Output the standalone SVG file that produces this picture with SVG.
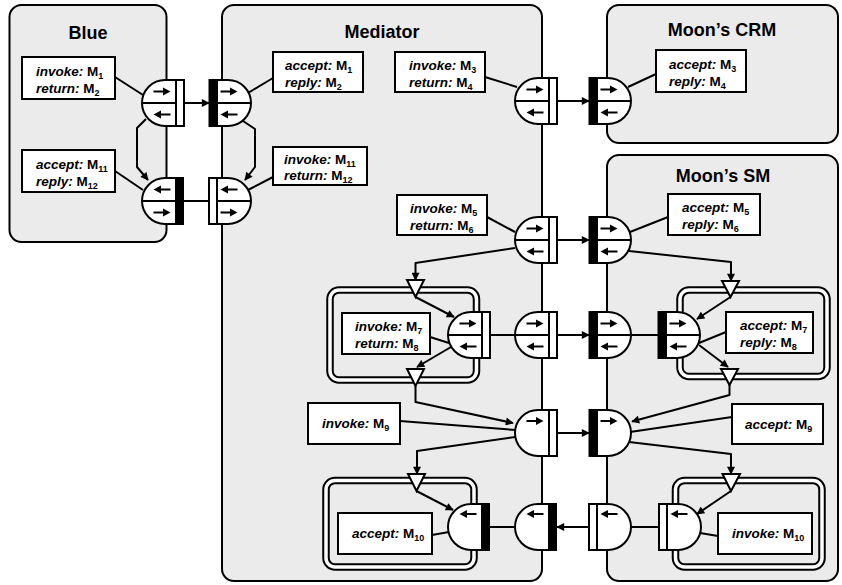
<svg xmlns="http://www.w3.org/2000/svg" xmlns:xlink="http://www.w3.org/1999/xlink" width="842" height="585" viewBox="0 0 842 585">
<style>
.c{fill:#ebebeb;stroke:#000;stroke-width:2}
.ln{fill:none;stroke:#000;stroke-width:2;stroke-linejoin:round}
.ar{marker-end:url(#ah)}
.bx{fill:#fff;stroke:#000;stroke-width:2}
.d{fill:#fff;stroke:#000;stroke-width:2}
.tri{fill:#fff;stroke:#000;stroke-width:2;stroke-linejoin:miter}
.n1{fill:none;stroke:#000;stroke-width:7.5}
.n2{fill:none;stroke:#fff;stroke-width:3.5}
.t{font-family:"Liberation Sans",Arial,sans-serif;font-weight:bold;font-size:13.5px;fill:#000}
.k{font-style:italic}
.s{font-size:9px}
.ti{font-family:"Liberation Sans",Arial,sans-serif;font-weight:bold;font-size:18px;text-anchor:middle}
</style>
<defs>
<marker id="ah" viewBox="0 0 10 10" refX="9" refY="5" markerWidth="9" markerHeight="8" markerUnits="userSpaceOnUse" orient="auto"><path d="M0,0L10,5L0,10Z"/></marker>
<path id="dl" class="d" d="M0,-23H-11A23,23 0 0 0 -11,23H0Z"/>
<path id="dr" class="d" d="M0,-23H11A23,23 0 0 1 11,23H0Z"/>
<path id="vl" class="ln" d="M-34,0H0"/>
<path id="vr" class="ln" d="M0,0H34"/>
<rect id="bw" x="0" y="-23" width="8" height="46" fill="#fff" stroke="#000" stroke-width="2"/>
<rect id="bb" x="-0.5" y="-24" width="8.5" height="48" fill="#000"/>
<g id="aR"><path d="M-8.5,0H2" stroke="#000" stroke-width="2"/><path d="M1,-4L8.5,0L1,4Z"/></g>
<g id="aL"><path d="M8.5,0H-2" stroke="#000" stroke-width="2"/><path d="M-1,-4L-8.5,0L-1,4Z"/></g>
</defs>

<g id="containers">
<g id="blue"><rect class="c" x="9.5" y="5" width="157" height="237" rx="12"/><text class="ti" x="88" y="39">Blue</text></g>
<g id="mediator"><rect class="c" x="222" y="5" width="320" height="576" rx="12"/><text class="ti" x="382" y="38">Mediator</text></g>
<g id="crm"><rect class="c" x="607" y="5" width="231" height="138" rx="12"/><text class="ti" x="722" y="36">Moon’s CRM</text></g>
<g id="sm"><rect class="c" x="607" y="155" width="231" height="426" rx="12"/><text class="ti" x="723" y="182">Moon’s SM</text></g>
</g>

<g id="nested">
<g id="n1"><rect class="n1" x="330" y="290" width="146.5" height="90" rx="9"/><rect class="n2" x="330" y="290" width="146.5" height="90" rx="9"/></g>
<g id="n2"><rect class="n1" x="680" y="290" width="147" height="86.5" rx="9"/><rect class="n2" x="680" y="290" width="147" height="86.5" rx="9"/></g>
<g id="n3"><rect class="n1" x="326" y="480.5" width="148" height="86.5" rx="9"/><rect class="n2" x="326" y="480.5" width="148" height="86.5" rx="9"/></g>
<g id="n4"><rect class="n1" x="675.5" y="480.5" width="146.5" height="86.5" rx="9"/><rect class="n2" x="675.5" y="480.5" width="146.5" height="86.5" rx="9"/></g>
</g>

<g id="connectors">
<path class="ln ar" d="M184,103H209"/>
<path class="ln" d="M184,201H209"/>
<path class="ln ar" d="M146,119L137,128V167L148,180"/>
<path class="ln ar" d="M243,121L255,129V167L245,180"/>
<path class="ln ar" d="M557,101H589"/>
<path class="ln ar" d="M557,240H589"/>
<path class="ln ar" d="M515,248L415.5,263V280"/>
<path class="ln ar" d="M415.5,297L454,317"/>
<path class="ln ar" d="M451,347L417,367"/>
<path class="ln" d="M490,335H515"/>
<path class="ln ar" d="M557,335H589"/>
<path class="ln" d="M631,335H658"/>
<path class="ln ar" d="M629,251L731,262V281"/>
<path class="ln ar" d="M730.5,297L697,319"/>
<path class="ln ar" d="M699,345L728,367"/>
<path class="ln ar" d="M415.5,386V402L513,423"/>
<path class="ln ar" d="M515,437L417,451V474"/>
<path class="ln ar" d="M416.5,491L453,510"/>
<path class="ln" d="M490,527H515"/>
<path class="ln ar" d="M589,527H557"/>
<path class="ln" d="M631,527H659"/>
<path class="ln ar" d="M729.5,385V395L632,421.5"/>
<path class="ln ar" d="M629,442L731,454V474"/>
<path class="ln ar" d="M731,491L697,514"/>
<path class="ln ar" d="M557,433H589"/>
<path class="ln" d="M115,77L143,95"/>
<path class="ln" d="M115,171L143,190"/>
<path class="ln" d="M273,78L248,93"/>
<path class="ln" d="M273,177L248,190"/>
<path class="ln" d="M485,77L517,87"/>
<path class="ln" d="M656,74L628,87"/>
<path class="ln" d="M487,217L515,232"/>
<path class="ln" d="M668,217L630,232"/>
<path class="ln" d="M430,337L449,343"/>
<path class="ln" d="M726,332L699,343"/>
<path class="ln" d="M400,421L516,430"/>
<path class="ln" d="M732,417L630,432"/>
<path class="ln" d="M432,535L449,532"/>
<path class="ln" d="M718,536L700,533"/>
</g>

<g id="triangles">
<path class="tri" d="M407,280H424L415.5,297Z"/>
<path class="tri" d="M407,369H424L415.5,386Z"/>
<path class="tri" d="M722,281H739L730.5,297Z"/>
<path class="tri" d="M721,369H738L729.5,385Z"/>
<path class="tri" d="M408,474H425L416.5,491Z"/>
<path class="tri" d="M722.5,474H740L731,491Z"/>
</g>

<g id="p1" transform="translate(176,103)"><use xlink:href="#dl"/><use xlink:href="#vl"/><use xlink:href="#bw"/><use xlink:href="#aR" x="-14" y="-11.5"/><use xlink:href="#aL" x="-14" y="11.5"/></g>
<g id="p2" transform="translate(217,103)"><use xlink:href="#dr"/><use xlink:href="#vr"/><use xlink:href="#bb" x="-8"/><use xlink:href="#aR" x="12" y="-11.5"/><use xlink:href="#aL" x="12" y="11.5"/></g>
<g id="p3" transform="translate(176,201)"><use xlink:href="#dl"/><use xlink:href="#vl"/><use xlink:href="#bb"/><use xlink:href="#aL" x="-14" y="-11.5"/><use xlink:href="#aR" x="-14" y="11.5"/></g>
<g id="p4" transform="translate(217,201)"><use xlink:href="#dr"/><use xlink:href="#vr"/><use xlink:href="#bw" x="-8"/><use xlink:href="#aL" x="12" y="-11.5"/><use xlink:href="#aR" x="12" y="11.5"/></g>
<g id="p5" transform="translate(549,101)"><use xlink:href="#dl"/><use xlink:href="#vl"/><use xlink:href="#bw"/><use xlink:href="#aR" x="-14" y="-11.5"/><use xlink:href="#aL" x="-14" y="11.5"/></g>
<g id="p6" transform="translate(597,101)"><use xlink:href="#dr"/><use xlink:href="#vr"/><use xlink:href="#bb" x="-8"/><use xlink:href="#aR" x="12" y="-11.5"/><use xlink:href="#aL" x="12" y="11.5"/></g>
<g id="p7" transform="translate(549,240)"><use xlink:href="#dl"/><use xlink:href="#vl"/><use xlink:href="#bw"/><use xlink:href="#aR" x="-14" y="-11.5"/><use xlink:href="#aL" x="-14" y="11.5"/></g>
<g id="p8" transform="translate(597,240)"><use xlink:href="#dr"/><use xlink:href="#vr"/><use xlink:href="#bb" x="-8"/><use xlink:href="#aR" x="12" y="-11.5"/><use xlink:href="#aL" x="12" y="11.5"/></g>
<g id="p9" transform="translate(482,335)"><use xlink:href="#dl"/><use xlink:href="#vl"/><use xlink:href="#bw"/><use xlink:href="#aR" x="-14" y="-11.5"/><use xlink:href="#aL" x="-14" y="11.5"/></g>
<g id="p10" transform="translate(549,335)"><use xlink:href="#dl"/><use xlink:href="#vl"/><use xlink:href="#bw"/><use xlink:href="#aR" x="-14" y="-11.5"/><use xlink:href="#aL" x="-14" y="11.5"/></g>
<g id="p11" transform="translate(597,335)"><use xlink:href="#dr"/><use xlink:href="#vr"/><use xlink:href="#bb" x="-8"/><use xlink:href="#aR" x="12" y="-11.5"/><use xlink:href="#aL" x="12" y="11.5"/></g>
<g id="p12" transform="translate(666,335)"><use xlink:href="#dr"/><use xlink:href="#vr"/><use xlink:href="#bb" x="-8"/><use xlink:href="#aR" x="12" y="-11.5"/><use xlink:href="#aL" x="12" y="11.5"/></g>
<g id="p13" transform="translate(549,433)"><use xlink:href="#dl"/><use xlink:href="#bw"/><use xlink:href="#aR" x="-14" y="-12"/></g>
<g id="p14" transform="translate(597,433)"><use xlink:href="#dr"/><use xlink:href="#bb" x="-8"/><use xlink:href="#aR" x="12" y="-12"/></g>
<g id="p15" transform="translate(482,527)"><use xlink:href="#dl"/><use xlink:href="#bb"/><use xlink:href="#aL" x="-14" y="-13"/></g>
<g id="p16" transform="translate(549,527)"><use xlink:href="#dl"/><use xlink:href="#bb"/><use xlink:href="#aL" x="-14" y="-13"/></g>
<g id="p17" transform="translate(597,527)"><use xlink:href="#dr"/><use xlink:href="#bw" x="-8"/><use xlink:href="#aL" x="12" y="-13"/></g>
<g id="p18" transform="translate(667,527)"><use xlink:href="#dr"/><use xlink:href="#bw" x="-8"/><use xlink:href="#aL" x="12" y="-13"/></g>

<g id="b1"><rect class="bx" x="22" y="57" width="93" height="42"/><text class="t" x="36" y="76"><tspan class="k">invoke:</tspan> M<tspan class="s" dy="3">1</tspan></text><text class="t" x="36" y="93"><tspan class="k">return:</tspan> M<tspan class="s" dy="3">2</tspan></text></g>
<g id="b2"><rect class="bx" x="22" y="150" width="93" height="42"/><text class="t" x="36" y="169"><tspan class="k">accept:</tspan> M<tspan class="s" dy="3">11</tspan></text><text class="t" x="36" y="186"><tspan class="k">reply:</tspan> M<tspan class="s" dy="3">12</tspan></text></g>
<g id="b3"><rect class="bx" x="273" y="52" width="90" height="40"/><text class="t" x="285" y="70"><tspan class="k">accept:</tspan> M<tspan class="s" dy="3">1</tspan></text><text class="t" x="285" y="87"><tspan class="k">reply:</tspan> M<tspan class="s" dy="3">2</tspan></text></g>
<g id="b4"><rect class="bx" x="273" y="147" width="94" height="38"/><text class="t" x="284" y="164"><tspan class="k">invoke:</tspan> M<tspan class="s" dy="3">11</tspan></text><text class="t" x="284" y="180"><tspan class="k">return:</tspan> M<tspan class="s" dy="3">12</tspan></text></g>
<g id="b5"><rect class="bx" x="395" y="52" width="90" height="40"/><text class="t" x="409" y="70"><tspan class="k">invoke:</tspan> M<tspan class="s" dy="3">3</tspan></text><text class="t" x="409" y="87"><tspan class="k">return:</tspan> M<tspan class="s" dy="3">4</tspan></text></g>
<g id="b6"><rect class="bx" x="656" y="50" width="90" height="42"/><text class="t" x="669" y="69"><tspan class="k">accept:</tspan> M<tspan class="s" dy="3">3</tspan></text><text class="t" x="669" y="86"><tspan class="k">reply:</tspan> M<tspan class="s" dy="3">4</tspan></text></g>
<g id="b7"><rect class="bx" x="397" y="195" width="90" height="40"/><text class="t" x="410" y="213"><tspan class="k">invoke:</tspan> M<tspan class="s" dy="3">5</tspan></text><text class="t" x="410" y="230"><tspan class="k">return:</tspan> M<tspan class="s" dy="3">6</tspan></text></g>
<g id="b8"><rect class="bx" x="668" y="194" width="92" height="41"/><text class="t" x="682" y="212"><tspan class="k">accept:</tspan> M<tspan class="s" dy="3">5</tspan></text><text class="t" x="682" y="229"><tspan class="k">reply:</tspan> M<tspan class="s" dy="3">6</tspan></text></g>
<g id="b9"><rect class="bx" x="342" y="313" width="88" height="41"/><text class="t" x="355" y="331"><tspan class="k">invoke:</tspan> M<tspan class="s" dy="3">7</tspan></text><text class="t" x="355" y="348"><tspan class="k">return:</tspan> M<tspan class="s" dy="3">8</tspan></text></g>
<g id="b10"><rect class="bx" x="726" y="312" width="87" height="41"/><text class="t" x="740" y="330"><tspan class="k">accept:</tspan> M<tspan class="s" dy="3">7</tspan></text><text class="t" x="740" y="347"><tspan class="k">reply:</tspan> M<tspan class="s" dy="3">8</tspan></text></g>
<g id="b11"><rect class="bx" x="308" y="403" width="92" height="41"/><text class="t" x="322" y="428"><tspan class="k">invoke:</tspan> M<tspan class="s" dy="3">9</tspan></text></g>
<g id="b12"><rect class="bx" x="732" y="404" width="91" height="40"/><text class="t" x="745" y="429"><tspan class="k">accept:</tspan> M<tspan class="s" dy="3">9</tspan></text></g>
<g id="b13"><rect class="bx" x="338" y="513" width="94" height="41"/><text class="t" x="352" y="538"><tspan class="k">accept:</tspan> M<tspan class="s" dy="3">10</tspan></text></g>
<g id="b14"><rect class="bx" x="718" y="513" width="94" height="41"/><text class="t" x="732" y="538"><tspan class="k">invoke:</tspan> M<tspan class="s" dy="3">10</tspan></text></g>
</svg>
